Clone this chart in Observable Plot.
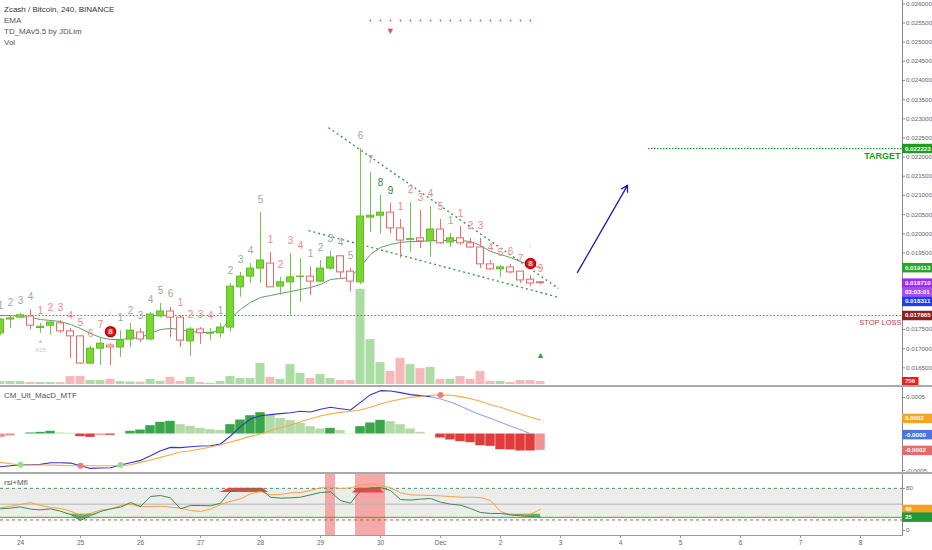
<!DOCTYPE html>
<html><head><meta charset="utf-8">
<script src="https://cdn.jsdelivr.net/npm/d3@7"></script>
<script src="https://cdn.jsdelivr.net/npm/@observablehq/plot@0.6"></script>
<style>
body{margin:0;background:#fff;}
#chart{position:relative;width:932px;height:550px;overflow:hidden;font-family:"Liberation Sans",Arial,sans-serif;background:#fff;}
.layer{position:absolute;}
.lbl{position:absolute;left:4px;font-size:8px;line-height:10px;color:#555;white-space:nowrap;}
.sep{position:absolute;left:0;width:932px;height:2px;background:#a9a9a9;}
</style></head><body><div id="chart"></div>
<script>
// ---------------- DATA ----------------
const open = [
0.01740,0.01776,0.01781,0.01784,0.01754,0.01760,0.01766,0.01745,0.01732,0.01661,
0.01700,0.01708,0.01703,0.01724,0.01742,0.01724,0.01784,0.01797,0.01781,0.01719,
0.01750,0.01739,0.01740,0.01755,0.01860,0.01888,0.01909,0.01922,0.01862,0.01873,
0.01887,0.01888,0.01875,0.01909,0.01941,0.01901,0.01873,0.02042,0.02047,0.02055,
0.02014,0.01984,0.01988,0.01980,0.02011,0.01977,0.01988,0.01975,0.01964,0.01920,
0.01907,0.01912,0.01901,0.01880,0.01873];
const high = [
0.01779,0.01787,0.01792,0.01802,0.01766,0.01773,0.01773,0.01753,0.01734,0.01706,
0.01729,0.01713,0.01747,0.01766,0.01753,0.01794,0.01818,0.01808,0.01787,0.01755,
0.01755,0.01753,0.01766,0.01870,0.01899,0.01922,0.02055,0.01951,0.01886,0.01948,
0.01935,0.01914,0.01930,0.01954,0.01943,0.01909,0.02222,0.02160,0.02100,0.02079,
0.02037,0.02081,0.02061,0.02071,0.02037,0.02001,0.02019,0.01988,0.01988,0.01930,
0.01917,0.01920,0.01901,0.01891,0.01875];
const low = [
0.01734,0.01752,0.01779,0.01750,0.01740,0.01734,0.01740,0.01674,0.01659,0.01659,
0.01656,0.01656,0.01677,0.01703,0.01716,0.01721,0.01781,0.01729,0.01703,0.01680,
0.01711,0.01721,0.01729,0.01742,0.01834,0.01870,0.01870,0.01860,0.01839,0.01787,
0.01821,0.01839,0.01873,0.01904,0.01883,0.01848,0.01867,0.02003,0.02000,0.02000,
0.01935,0.01951,0.01961,0.01938,0.01972,0.01964,0.01969,0.01961,0.01909,0.01904,
0.01886,0.01896,0.01870,0.01862,0.01867];
const close = [
0.01776,0.01779,0.01787,0.01760,0.01757,0.01768,0.01745,0.01732,0.01661,0.01700,
0.01713,0.01703,0.01721,0.01747,0.01724,0.01789,0.01797,0.01781,0.01721,0.01750,
0.01740,0.01741,0.01755,0.01862,0.01888,0.01909,0.01930,0.01860,0.01873,0.01886,
0.01888,0.01875,0.01909,0.01938,0.01899,0.01875,0.02045,0.02047,0.02055,0.02014,
0.01982,0.01986,0.01980,0.02011,0.01975,0.01988,0.01975,0.01964,0.01920,0.01907,
0.01912,0.01899,0.01878,0.01870,0.01871];
const volume = [
750,760,700,500,500,520,480,2000,2050,1000,
1000,1300,700,650,600,1250,800,1800,800,1800,
500,300,750,2000,1500,1500,5300,1800,1300,5000,
2800,1500,2500,1500,1000,1000,24000,11300,5500,3300,
6600,5000,4000,4300,1300,1300,2000,1300,3300,800,
800,500,1000,1000,756];
const ema = [
0.017865,0.017865,0.017839,0.017813,0.017761,0.017735,0.017709,0.017631,0.017526,0.017396,
0.017291,0.017239,0.017239,0.017265,0.017291,0.017396,0.017500,0.017526,0.017500,0.017448,
0.017422,0.017422,0.017474,0.017787,0.018022,0.018205,0.018335,0.018387,0.018440,0.018492,
0.018544,0.018596,0.018675,0.018805,0.018831,0.018857,0.019144,0.019458,0.019640,0.019719,
0.019771,0.019797,0.019797,0.019823,0.019823,0.019823,0.019823,0.019797,0.019693,0.019536,
0.019458,0.019379,0.019275,0.019171,0.019113];
// TD sequential counts and their colour kind: g=grey, p=pink, d=dark green, b=red badge
const tdLabel = [
"1","2","3","4","1","2","3","4","5","6",
"7","8","1","2","3","4","5","6","1","2",
"3","4","1","2","3","4","5","1","2","3",
"4","1","2","3","4","5","6","7","8","9",
"1","2","3","4","5","1","1","2","3","4",
"5","6","7","8","9"];
const tdKind = [
"g","g","g","g","p","p","p","p","p","p",
"p","b","g","g","g","g","g","g","p","p",
"p","p","g","g","g","g","g","p","p","p",
"p","g","g","g","g","g","g","g","d","d",
"p","p","p","p","p","g","p","p","p","p",
"p","p","p","b","p"];
const macdHist = [
-46e-6,-27e-6,0,14e-6,23e-6,37e-6,14e-6,9e-6,-37e-6,-46e-6,
-18e-6,-18e-6,0,37e-6,55e-6,114e-6,160e-6,174e-6,128e-6,105e-6,
78e-6,59e-6,50e-6,128e-6,192e-6,251e-6,292e-6,256e-6,215e-6,183e-6,
146e-6,101e-6,69e-6,78e-6,46e-6,5e-6,101e-6,151e-6,187e-6,169e-6,
128e-6,69e-6,23e-6,0,-55e-6,-82e-6,-105e-6,-119e-6,-160e-6,-169e-6,
-215e-6,-219e-6,-233e-6,-233e-6,-224e-6];
const macdLine = [
-448e-6,-434e-6,-420e-6,-420e-6,-416e-6,-393e-6,-393e-6,-398e-6,-434e-6,-471e-6,
-466e-6,-462e-6,-425e-6,-393e-6,-361e-6,-297e-6,-229e-6,-183e-6,-187e-6,-174e-6,
-165e-6,-160e-6,-137e-6,-27e-6,101e-6,206e-6,251e-6,265e-6,279e-6,292e-6,
311e-6,302e-6,338e-6,366e-6,347e-6,329e-6,434e-6,539e-6,594e-6,590e-6,
567e-6,539e-6,526e-6,512e-6,480e-6,439e-6,384e-6,320e-6,265e-6,215e-6,
160e-6,110e-6,59e-6,5e-6,null];
const macdSignal = [
-388e-6,-407e-6,-425e-6,-425e-6,-425e-6,-425e-6,-430e-6,-434e-6,-434e-6,-434e-6,
-434e-6,-434e-6,-434e-6,-420e-6,-388e-6,-356e-6,-320e-6,-283e-6,-247e-6,-229e-6,
-206e-6,-178e-6,-151e-6,-110e-6,-73e-6,-32e-6,0,46e-6,87e-6,123e-6,
169e-6,210e-6,247e-6,274e-6,297e-6,311e-6,329e-6,366e-6,411e-6,448e-6,
475e-6,503e-6,516e-6,530e-6,535e-6,530e-6,512e-6,484e-6,448e-6,402e-6,
366e-6,320e-6,274e-6,229e-6,192e-6];
const rsi = [
41.1,42.4,44.9,40.5,39.2,41.1,36.7,30.4,19.0,28.5,
36.1,41.1,44.3,53.1,45.5,64.5,66.4,62.0,41.1,47.4,
47.4,46.8,51.8,74.6,78.4,79.1,79.1,63.2,61.4,62.0,
63.2,67.7,72.1,73.4,56.9,51.8,75.9,80.9,81.6,75.9,
58.8,57.6,59.5,60.7,53.8,50.0,48.1,41.7,34.2,32.3,
32.3,29.7,27.8,26.6,25.3];
const mfi = [
43.0,46.2,49.3,53.1,47.4,43.6,41.7,36.7,28.5,32.9,
38.6,40.5,47.4,50.0,45.5,45.5,46.2,44.3,42.4,37.9,
36.1,40.5,49.3,55.7,60.1,69.6,74.0,67.7,68.3,71.5,
72.1,75.9,81.0,82.2,79.7,81.0,86.0,88.6,85.4,81.0,
71.5,67.7,67.1,66.4,65.8,64.5,63.2,63.2,62.6,56.9,
36.1,29.7,28.5,31.0,40.0];
const overboughtBars = [33,36,37,38];
const macdCrossDots = [{i:2,s:"macd",c:"#8ee28e"},{i:12,s:"macd",c:"#8ee28e"},{i:8,s:"macd",c:"#f27a7a"},{i:44,s:"sig",c:"#f27a7a"}];

const priceTicks = [0.026,0.0255,0.025,0.0245,0.024,0.0235,0.023,0.0225,0.022,0.0215,0.021,0.0205,0.02,0.0195,0.0175,0.017,0.0165];
// shift = vertical nudge (px) TradingView applies so the tags do not overlap
const priceBadges = [
  {v:0.022223,label:"0.022223",c:"#1f9d1f",shift:0},
  {v:0.019113,label:"0.019113",c:"#25a62b",shift:0},
  {v:0.018710,label:"0.018710",c:"#9b2cf0",shift:0},
  {v:0.018710,label:"03:03:01",c:"#a94cf2",shift:9},
  {v:0.018311,label:"0.018311",c:"#1d3cf5",shift:3},
  {v:0.017865,label:"0.017865",c:"#8e1f1f",shift:0}];
const volBadge = {v:756,label:"756",c:"#f21c1c"};
const macdTicks = [0.0005,-0.0005];
const macdTickLabels = ["0.0005","-0.0005"];
const macdBadges = [{v:0.000214,label:"0.0002",c:"#f7a325",shift:0},{v:0.000005,label:"-0.0000",c:"#4a76e0",shift:1},{v:-0.000224,label:"-0.0002",c:"#e46b6b",shift:0}];
const rsiTicks = [80,0];
const rsiBadges = [{v:40,label:"40",c:"#f5a020",shift:0},{v:25.3,label:"25",c:"#1f9a3a",shift:0}];
const rsiLevels = {upper:80, mid:50, lower:20, band:[25,80]};

const stopLoss = 0.017865;
const target = {price:0.022223, start:new Date(Date.UTC(2018,11,4,11,12))};
const trendLines = [
  {t1:new Date(Date.UTC(2018,10,29,3,12)),p1:0.02277,t2:new Date(Date.UTC(2018,11,2,23,12)),p2:0.01857},
  {t1:new Date(Date.UTC(2018,10,28,19,12)),p1:0.02008,t2:new Date(Date.UTC(2018,11,2,23,12)),p2:0.01834}];
const arrows = [{t1:new Date(Date.UTC(2018,11,3,6,48)),p1:0.01899,t2:new Date(Date.UTC(2018,11,4,2,48)),p2:0.02126}];
const tdTopLevel = 0.025565;
const symbols = [
  {i:39,p:0.02530,s:"▼",c:"#e8504a",size:9},
  {i:54,p:0.01682,s:"▲",c:"#3a9a4a",size:9},
  {i:4,p:0.01719,s:"▲",c:"#c4c4c4",size:6},
  {i:4,p:0.01695,s:"A15",c:"#c4c4c4",size:6},
  {i:11,p:0.01792,s:"!",c:"#f3b25c",size:6},
  {i:53,p:0.01964,s:"!",c:"#f3b25c",size:6}];
const zoneA = [
  {t:new Date(Date.UTC(2018,10,27,7,50)),lo:72,hi:72},{t:new Date(Date.UTC(2018,10,27,11,26)),lo:72,hi:80},
  {t:new Date(Date.UTC(2018,10,28,1,0)),lo:72,hi:80},{t:new Date(Date.UTC(2018,10,28,3,10)),lo:72,hi:72}];
const zoneB = [
  {t:new Date(Date.UTC(2018,10,29,12,43)),lo:71,hi:71},{t:new Date(Date.UTC(2018,10,29,14,50)),lo:71,hi:80},
  {t:new Date(Date.UTC(2018,10,29,23,26)),lo:71,hi:80},{t:new Date(Date.UTC(2018,10,30,1,34)),lo:71,hi:71}];

// ---------------- LAYOUT ----------------
const FONT = "Liberation Sans, Arial, sans-serif";
const H = 3600e3;
const t0 = Date.UTC(2018,10,23,16);
const times = open.map((_,i)=>new Date(t0 + i*4*H));
const xDomain = [new Date(t0), new Date(t0 + 902/60*24*H)];
const priceDomain = [0.016012, 0.026087];
const volDomain = [0, 96768];
const macdDomain = [-0.000527, 0.000637];
const rsiDomain = [-9.5, 108.2];
const dayTicks = d3.utcDay.range(new Date(Date.UTC(2018,10,24)), new Date(Date.UTC(2018,11,9)));

const candles = times.map((t,i)=>({t,i,o:open[i],h:high[i],l:low[i],c:close[i],v:volume[i],ema:ema[i],
  up:close[i]>=open[i],td:tdLabel[i],k:tdKind[i],hist:macdHist[i],macd:macdLine[i],sig:macdSignal[i],rsi:rsi[i],mfi:mfi[i]}));
candles.forEach((d,i)=>{
  const prev = i>0 ? candles[i-1].hist : d.hist - 1;
  if (d.hist >= 0) d.hc = d.hist > prev ? "#3aa64a" : "#b3dba8";
  else d.hc = d.hist <= prev ? "#e03c3c" : "#f09090";
});
const tdColors = {g:"#9aaa9a", p:"#f28686", d:"#1f8a2a"};
const sh = (d,h)=>new Date(+d.t + h*H);
const base = {margin:0, style:{background:"transparent",overflow:"visible",fontFamily:FONT}, color:{type:"identity"}};
const xs = {type:"utc", domain:xDomain, axis:null};

const chart = document.getElementById("chart");
function place(svg, left, top, z){ const d=document.createElement("div"); d.className="layer"; d.style.left=left+"px"; d.style.top=top+"px"; d.style.zIndex=z; d.appendChild(svg); chart.appendChild(d); }

function badgeMarks(badges){
  return badges.flatMap(b=>[
    Plot.ruleY([b],{y:"v",x1:0,x2:1,dy:b.shift||0,stroke:"c",strokeWidth:9.5}),
    Plot.text([b],{y:"v",x:0.08,dy:b.shift||0,text:"label",textAnchor:"start",fill:"white",fontSize:6.2,fontWeight:"bold"})
  ]);
}
function axisColumn(height, domain, ticks, tickText, badges, marginBottom=0){
  return Plot.plot({...base, width:30, height, marginBottom,
    x:{domain:[0,1],axis:null}, y:{domain, axis:null},
    marks:[
      Plot.ruleX([0],{stroke:"#8a8a8a"}),
      Plot.ruleY(ticks,{x1:0,x2:0.1,stroke:"#8a8a8a"}),
      Plot.text(ticks,{y:d=>d,x:0.12,text:(d,i)=>tickText[i],textAnchor:"start",fontSize:6.2,fill:"#666"}),
      ...badgeMarks(badges)
    ]});
}

// Volume layer
const volPlot = Plot.plot({...base, width:902, height:384, x:xs, y:{domain:volDomain,axis:null},
  marks:[Plot.rect(candles,{x1:d=>sh(d,-1.8),x2:d=>sh(d,1.8),y1:0,y2:"v",fill:d=>d.up?"#aadca4":"#f7b8bc"})]});
place(volPlot,0,0,1);

// Price layer
const badgeC = candles.filter(d=>d.k==="b");
const pricePlot = Plot.plot({...base, width:902, height:386, x:xs, y:{domain:priceDomain,axis:null},
  marks:[
    Plot.ruleY([stopLoss],{stroke:"#d94a4a",strokeDasharray:"1.5,2",strokeWidth:1}),
    Plot.ruleY([target.price],{x1:target.start,x2:xDomain[1],stroke:"#23a023",strokeDasharray:"1.5,1.5",strokeWidth:1.3}),
    Plot.link(trendLines,{x1:"t1",y1:"p1",x2:"t2",y2:"p2",stroke:"#3d9a4a",strokeDasharray:"2,3",strokeWidth:1.4}),
    Plot.arrow(arrows,{x1:"t1",y1:"p1",x2:"t2",y2:"p2",stroke:"#1c1cb8",strokeWidth:1.3,headLength:8,bend:0}),
    Plot.line(candles,{x:"t",y:"ema",stroke:"#5e9e6e",strokeWidth:1}),
    Plot.ruleX(candles,{x:"t",y1:"l",y2:"h",stroke:d=>d.up?"#74c64c":"#f07070"}),
    Plot.rect(candles,{x1:d=>sh(d,-1.4),x2:d=>sh(d,1.4),y1:d=>Math.min(d.o,d.c),y2:d=>Math.max(d.o,d.c),
      fill:d=>d.up?"#7ad630":"white",stroke:d=>d.up?"#5cbc2a":"#f06464",strokeWidth:1}),
    Plot.text(candles.filter(d=>d.k!=="b"),{x:"t",y:"h",text:"td",dy:-13,fill:d=>tdColors[d.k],fontSize:10}),
    Plot.dot(badgeC,{x:"t",y:"h",dy:-12,r:5,fill:"#e51a1a",stroke:"#c00000"}),
    Plot.text(badgeC,{x:"t",y:"h",dy:-12,text:"td",fill:"#ffe2e2",fontSize:8,fontWeight:"bold"}),
    Plot.dot(candles.slice(37,54),{x:"t",y:()=>tdTopLevel,r:0.9,fill:"#e05050"}),
    Plot.text(symbols,{x:d=>times[d.i],y:"p",text:"s",fill:"c",fontSize:"size"}),
    Plot.text([target],{y:"price",text:()=>"TARGET",frameAnchor:"right",textAnchor:"end",dx:-2,dy:8,fill:"#1e9a1e",fontWeight:"bold",fontSize:9}),
    Plot.text([stopLoss],{y:d=>d,text:()=>"STOP LOSS",frameAnchor:"right",textAnchor:"end",dx:-1,dy:7,fill:"#c03a3a",fontSize:7.5})
  ]});
place(pricePlot,0,0,2);

place(axisColumn(386, priceDomain, priceTicks, priceTicks.map(d=>d.toFixed(6)), priceBadges),902,0,3);
place(Plot.plot({...base,width:30,height:384,x:{domain:[0,1],axis:null},y:{domain:volDomain,axis:null},marks:[
  Plot.ruleY([volBadge],{y:"v",x1:0,x2:0.55,stroke:"c",strokeWidth:9}),
  Plot.text([volBadge],{y:"v",x:0.08,text:"label",textAnchor:"start",fill:"white",fontSize:6.2,fontWeight:"bold"})
]}),902,0,4);

// MACD pane
const macdPlot = Plot.plot({...base, width:902, height:85, x:xs, y:{domain:macdDomain,axis:null},
  marks:[
    Plot.rect(candles,{x1:d=>sh(d,-1.9),x2:d=>sh(d,1.9),y1:0,y2:"hist",fill:"hc"}),
    Plot.line(candles.filter(d=>d.i<=43),{x:"t",y:"macd",stroke:"#3434d2",strokeWidth:1.1}),
    Plot.line(candles.filter(d=>d.i>=43&&d.macd!=null),{x:"t",y:"macd",stroke:"#97a6ef",strokeWidth:1.1}),
    Plot.line(candles,{x:"t",y:"sig",stroke:"#f5a948",strokeWidth:1.1}),
    Plot.dot(macdCrossDots,{x:d=>times[d.i],y:d=>candles[d.i][d.s],r:3,fill:"c"})
  ]});
place(macdPlot,0,387,2);
place(axisColumn(85, macdDomain, macdTicks, macdTickLabels, macdBadges),902,387,3);

// RSI pane
const rsiPlot = Plot.plot({...base, width:902, height:77, marginBottom:15, x:xs, y:{domain:rsiDomain,axis:null},
  marks:[
    Plot.rect([rsiLevels],{y1:d=>d.band[0],y2:d=>d.band[1],fill:"#ececec"}),
    Plot.rect(overboughtBars.map(i=>candles[i]),{x1:d=>sh(d,-2),x2:d=>sh(d,2),fill:"#f5a0a0",fillOpacity:0.9}),
    Plot.ruleY([rsiLevels.upper],{stroke:"#3f9a6a",strokeDasharray:"3,3"}),
    Plot.ruleY([rsiLevels.mid],{stroke:"#b4b4b4"}),
    Plot.ruleY([rsiLevels.lower],{stroke:"#e04848",strokeDasharray:"3,3"}),
    Plot.ruleY([rsiLevels.band[0]],{stroke:"#3aa03a"}),
    Plot.areaY(zoneA,{x:"t",y1:"lo",y2:"hi",fill:"#e84848"}),
    Plot.areaY(zoneB,{x:"t",y1:"lo",y2:"hi",fill:"#e84848"}),
    Plot.areaY(candles,{x:"t",y1:d=>Math.min(d.rsi,31),y2:31,fill:"#3a9a3a",fillOpacity:0.75}),
    Plot.line(candles,{x:"t",y:"mfi",stroke:"#f2a23a",strokeWidth:1}),
    Plot.line(candles,{x:"t",y:"rsi",stroke:"#3a8a4a",strokeWidth:1}),
    Plot.frame({anchor:"bottom",stroke:"#9a9a9a"}),
    Plot.axisX(dayTicks,{anchor:"bottom",label:null,tickSize:3,tickPadding:2,fontSize:6.5,fill:"#666",stroke:"#999",
      tickFormat:d=>d.getUTCDate()===1?"Dec":String(d.getUTCDate())})
  ]});
place(rsiPlot,0,473,2);
place(axisColumn(77, rsiDomain, rsiTicks, rsiTicks.map(String), rsiBadges, 15),902,473,3);

// separators and labels
[385,472].forEach(y=>{const s=document.createElement("div");s.className="sep";s.style.top=y+"px";s.style.zIndex=5;chart.appendChild(s);});
const labels = [
  {text:"Zcash / Bitcoin, 240, BINANCE",top:5,color:"#333"},
  {text:"EMA",top:16,color:"#555"},
  {text:"TD_MAv5.5 by JDLim",top:27,color:"#555"},
  {text:"Vol",top:38,color:"#555"},
  {text:"CM_Ult_MacD_MTF",top:391,color:"#555"},
  {text:"rsi+Mfi",top:478,color:"#555"}];
labels.forEach(l=>{const d=document.createElement("div");d.className="lbl";d.textContent=l.text;d.style.top=l.top+"px";d.style.color=l.color;d.style.zIndex=6;chart.appendChild(d);});
</script></body></html>
